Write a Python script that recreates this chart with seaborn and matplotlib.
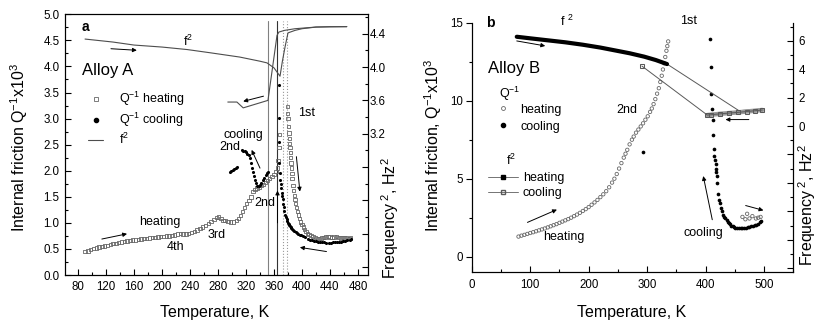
import matplotlib
matplotlib.use('Agg')
import matplotlib.pyplot as plt
from matplotlib.lines import Line2D
from matplotlib.ticker import MultipleLocator, FuncFormatter
import seaborn as sns

# ---------------- Panel a : Alloy A ----------------
# internal friction Q^-1 x10^3, heating run (open squares)
qa_heat_T = [90, 94, 98, 102, 106, 110, 114, 118, 122, 126, 130, 134, 138, 142, 146, 150, 154, 158,
             162, 166, 170, 174, 178, 182, 186, 190, 194, 198, 202, 206, 210, 214, 218, 222, 226,
             230, 234, 238, 242, 246, 250, 254, 258, 262, 266, 270, 274, 278, 281, 284, 287, 290,
             294, 298, 302, 306, 309, 312, 315, 318, 321, 324, 327, 330, 333, 336, 339, 342, 345,
             348, 351, 354, 357, 360, 363, 365, 366, 367, 368,
             379, 379.5, 380, 381, 381.5, 382, 382.5, 383, 383.5, 384, 384.5, 385, 385.5, 386, 387,
             388, 389, 390, 391, 392, 393.5, 395, 396.5, 398, 400, 402, 404, 406, 408, 410, 413,
             416, 419, 422, 425, 428, 431, 434, 437, 440, 443, 446, 449, 452, 455, 458, 461, 464,
             467, 469]
qa_heat_Q = [0.45, 0.46, 0.49, 0.51, 0.52, 0.54, 0.55, 0.56, 0.57, 0.59, 0.60, 0.61, 0.62, 0.63, 0.64,
             0.65, 0.66, 0.67, 0.67, 0.68, 0.69, 0.70, 0.70, 0.71, 0.72, 0.72, 0.73, 0.74, 0.74, 0.75,
             0.75, 0.76, 0.77, 0.79, 0.80, 0.79, 0.79, 0.80, 0.82, 0.84, 0.86, 0.89, 0.92, 0.95, 0.99,
             1.03, 1.07, 1.10, 1.11, 1.08, 1.05, 1.04, 1.03, 1.02, 1.02, 1.04, 1.08, 1.14, 1.22, 1.30,
             1.37, 1.43, 1.50, 1.60, 1.64, 1.67, 1.69, 1.72, 1.74, 1.77, 1.81, 1.85, 1.89, 1.93, 1.98,
             2.05, 2.20, 2.45, 2.70,
             3.23, 3.10, 3.00, 2.85, 2.72, 2.62, 2.52, 2.45, 2.35, 2.25, 2.15, 2.05, 1.95, 1.85, 1.72,
             1.62, 1.53, 1.45, 1.37, 1.30, 1.22, 1.15, 1.08, 1.02, 0.97, 0.92, 0.87, 0.83, 0.80, 0.78,
             0.76, 0.74, 0.72, 0.70, 0.70, 0.71, 0.72, 0.73, 0.74, 0.73, 0.72, 0.73, 0.74, 0.72, 0.71,
             0.72, 0.71, 0.72, 0.70, 0.71]
# internal friction, cooling run (dots)
qa_cool_T = [470, 468, 465, 462, 459, 456, 453, 450, 447, 444, 441, 438, 435, 432, 429, 426, 423, 420,
             417, 414, 411, 408, 405, 402, 399, 397, 395, 393, 391, 389, 387.6, 386, 385, 384, 383,
             382, 381, 380, 379, 378, 377, 376, 375, 374, 373.3, 372.5, 371.7, 371, 370, 369.3,
             368.6, 368, 367.5, 367, 366.7, 366.5,
             352, 350, 348, 346, 344, 342, 340, 338, 336, 334.5, 333, 331.5, 330, 328.5, 327, 326,
             324, 322, 320, 318, 316, 314, 307, 305, 303, 301, 299, 297]
qa_cool_Q = [0.70, 0.68, 0.67, 0.66, 0.65, 0.64, 0.64, 0.63, 0.63, 0.63, 0.62, 0.62, 0.62, 0.63, 0.63,
             0.63, 0.64, 0.65, 0.66, 0.67, 0.68, 0.70, 0.72, 0.74, 0.76, 0.77, 0.79, 0.81, 0.83, 0.85,
             0.86, 0.88, 0.90, 0.92, 0.94, 0.96, 0.98, 1.00, 1.04, 1.08, 1.12, 1.16, 1.22, 1.30, 1.37,
             1.45, 1.52, 1.57, 1.66, 1.74, 1.82, 1.95, 2.14, 2.56, 3.01, 3.65,
             1.98, 1.95, 1.91, 1.87, 1.82, 1.77, 1.73, 1.70, 1.71, 1.76, 1.82, 1.90, 1.97, 2.05, 2.15,
             2.24, 2.30, 2.32, 2.35, 2.37, 2.38, 2.40, 2.08, 2.05, 2.03, 2.01, 2.00, 1.98]
# f^2 (right axis), heating and cooling
fa_heat_T = [90, 130, 160, 200, 236, 270, 311, 340, 350, 360, 368.6, 372, 376, 380, 390, 400, 420, 440, 464]
fa_heat_F = [4.336, 4.30, 4.264, 4.24, 4.21, 4.17, 4.12, 4.07, 4.05, 3.99, 3.89, 4.07, 4.25, 4.41, 4.44,
             4.46, 4.48, 4.485, 4.485]
fa_cool_T = [464, 420, 390, 375, 367, 364.3, 351.4, 316, 307, 294]
fa_cool_F = [4.485, 4.48, 4.46, 4.44, 4.42, 4.38, 3.60, 3.51, 3.58, 3.58]
# transformation temperatures (vertical lines)
trans_T = [351.5, 364.5, 373, 378.5]

# ---------------- Panel b : Alloy B ----------------
qb_heat_T = [80, 85, 90, 95, 100, 105, 110, 115, 120, 125, 130, 135, 140, 145, 150, 155, 160, 165,
             170, 175, 180, 185, 190, 195, 200, 205, 210, 215, 220, 225, 230, 235, 240, 244, 248,
             252, 256, 260, 263, 266, 270, 274, 277, 281, 285, 289, 293, 297, 301, 305, 308, 311,
             314, 317, 320, 322.5, 325, 327, 329, 331, 333, 334.5, 336,
             463, 468, 471, 475, 480, 486, 490, 494]
qb_heat_Q = [1.29, 1.35, 1.40, 1.46, 1.52, 1.57, 1.63, 1.69, 1.75, 1.81, 1.88, 1.95, 2.02, 2.09, 2.17,
             2.25, 2.33, 2.41, 2.50, 2.60, 2.70, 2.81, 2.93, 3.05, 3.18, 3.33, 3.48, 3.64, 3.82, 4.00,
             4.20, 4.45, 4.75, 5.00, 5.30, 5.65, 6.00, 6.35, 6.60, 6.85, 7.20, 7.50, 7.70, 7.95, 8.15,
             8.35, 8.55, 8.78, 9.00, 9.28, 9.50, 9.78, 10.1, 10.45, 10.8, 11.2, 11.6, 12.0, 12.4, 12.8,
             13.2, 13.5, 13.8,
             2.55, 2.40, 2.75, 2.45, 2.60, 2.45, 2.50, 2.55]
qb_cool_T = [495, 493, 490, 487, 484, 481, 478, 475, 472, 469, 466, 463, 460, 457, 454, 451, 448.5,
             446, 444, 442, 440, 438, 436, 434, 432, 430, 428, 426, 424, 422.8, 421.5, 420, 419,
             418.5, 418, 417, 416, 415, 414, 413, 412.5, 411.5, 410, 408.5, 407, 293]
qb_cool_Q = [2.30, 2.22, 2.12, 2.06, 2.01, 1.97, 1.94, 1.91, 1.89, 1.87, 1.86, 1.85, 1.85, 1.85, 1.86,
             1.87, 1.90, 1.95, 2.00, 2.08, 2.16, 2.25, 2.35, 2.45, 2.55, 2.70, 2.90, 3.15, 3.45, 3.66,
             4.00, 4.74, 5.17, 5.40, 5.60, 5.93, 6.20, 6.46, 6.90, 7.80, 8.79, 9.48, 10.41, 12.13,
             13.96, 6.72]
fb_heat_T = [77, 100, 130, 160, 190, 220, 245, 270, 295, 315, 334, 457, 497]
fb_heat_F = [6.28, 6.17, 6.03, 5.89, 5.72, 5.52, 5.32, 5.12, 4.88, 4.64, 4.36, 1.08, 1.20]
fb_cool_T = [497, 485, 470, 455, 440, 425, 410, 403, 291]
fb_cool_F = [1.13, 1.08, 1.02, 0.96, 0.91, 0.86, 0.80, 0.77, 4.22]

# ---------------- style ----------------
sns.set_style('ticks', {'axes.edgecolor': 'black', 'xtick.color': 'black', 'ytick.color': 'black',
                        'text.color': 'black', 'axes.labelcolor': 'black'})
plt.rcParams['font.family'] = ['Liberation Sans', 'DejaVu Sans']
plt.rcParams['mathtext.fontset'] = 'custom'
plt.rcParams['mathtext.rm'] = 'Liberation Sans'
plt.rcParams['mathtext.it'] = 'Liberation Sans:italic'
plt.rcParams['mathtext.bf'] = 'Liberation Sans:bold'
plt.rcParams['axes.linewidth'] = 0.8

TICK = 8.3
LAB = 11.5
ANN = 9

fig = plt.figure(figsize=(8.17, 3.26), dpi=100)
ax1 = fig.add_axes([0.0796, 0.1564, 0.3708, 0.7997])
ax1r = ax1.twinx()
ax2 = fig.add_axes([0.5774, 0.1647, 0.3936, 0.7657])
ax2r = ax2.twinx()


def arrow(ax, x0, y0, x1, y1):
    ax.annotate('', xy=(x1, y1), xytext=(x0, y0),
                arrowprops=dict(arrowstyle='-|>', color='black', lw=0.7,
                                mutation_scale=6, shrinkA=0, shrinkB=0))


# ---------------- panel a ----------------
for t, c, ls in zip(trans_T, ['0.5', '0.2', '0.6', '0.6'], ['-', '-', ':', ':']):
    ax1.axvline(t, ymin=0, ymax=0.975, color=c, ls=ls, lw=0.8)

sns.scatterplot(x=qa_heat_T, y=qa_heat_Q, marker='s', s=6, color='0.4', facecolor='none',
                edgecolor='0.4', linewidth=0.6, ax=ax1, zorder=3)
sns.scatterplot(x=qa_cool_T, y=qa_cool_Q, marker='o', s=5, color='black', edgecolor='black',
                linewidth=0, ax=ax1, zorder=4)

sns.lineplot(x=fa_heat_T, y=fa_heat_F, sort=False, estimator=None, color='0.3', lw=0.8, ax=ax1r)
sns.lineplot(x=fa_cool_T, y=fa_cool_F, sort=False, estimator=None, color='0.3', lw=0.8, ax=ax1r)

ax1.set_xlim(61.4, 494.3)
ax1.set_ylim(0, 5.0)
ax1r.set_ylim(1.504, 4.633)
ax1.xaxis.set_major_locator(MultipleLocator(40))
ax1.xaxis.set_minor_locator(MultipleLocator(20))
ax1.yaxis.set_major_locator(MultipleLocator(0.5))
ax1.yaxis.set_minor_locator(MultipleLocator(0.25))
ax1.yaxis.set_major_formatter(FuncFormatter(lambda v, p: f'{v:.1f}'))
ax1r.yaxis.set_major_locator(MultipleLocator(0.4))
ax1r.yaxis.set_minor_locator(MultipleLocator(0.2))
ax1r.yaxis.set_major_formatter(FuncFormatter(lambda v, p: f'{v:.1f}' if v > 3.1 else ''))

ax1.tick_params(which='both', direction='in', labelsize=TICK, width=0.8)
ax1.tick_params(which='major', length=4, pad=4)
ax1.tick_params(which='minor', length=2)
ax1r.tick_params(which='both', direction='in', labelsize=TICK, width=0.8)
ax1r.tick_params(which='major', length=4, pad=1.5)
ax1r.tick_params(which='minor', length=2)

ax1.set_xlabel('Temperature, K', fontsize=LAB)
ax1.xaxis.set_label_coords(0.495, -0.115)
ax1.set_ylabel('Internal friction Q$^{-1}$x10$^3$', fontsize=LAB)
ax1.yaxis.set_label_coords(-0.115, 0.49)
ax1r.set_ylabel('Frequency$^{\\ 2}$, Hz$^2$', fontsize=LAB, rotation=90)
ax1r.yaxis.set_label_coords(1.036, 0.219)

ax1.text(0.069, 0.952, 'a', transform=ax1.transAxes, fontsize=10, fontweight='bold',
         ha='center', va='center')
ax1.text(237, 4.48, 'f$^2$', fontsize=ANN, ha='center', va='center')
ax1.text(85, 3.93, 'Alloy A', fontsize=12, ha='left', va='center')
ax1.text(394, 3.11, '1st', fontsize=ANN, ha='left', va='center')
ax1.text(315.7, 2.69, 'cooling', fontsize=ANN, ha='center', va='center')
ax1.text(297, 2.46, '2nd', fontsize=ANN, ha='center', va='center')
ax1.text(347, 1.38, '2nd', fontsize=ANN, ha='center', va='center')
ax1.text(197, 1.02, 'heating', fontsize=ANN, ha='center', va='center')
ax1.text(218.6, 0.54, '4th', fontsize=ANN, ha='center', va='center')
ax1.text(278, 0.77, '3rd', fontsize=ANN, ha='center', va='center')

arrow(ax1, 127, 4.34, 164, 4.31)
arrow(ax1, 345, 3.43, 316, 3.33)
arrow(ax1, 114, 0.69, 150, 0.79)
arrow(ax1, 435, 0.45, 397, 0.53)
arrow(ax1, 340, 2.05, 328, 2.40)
arrow(ax1, 392, 2.27, 397, 1.60)
arrow(ax1, 365, 1.0, 365, 1.62)

h_a = [Line2D([], [], marker='s', ls='none', mfc='none', mec='0.4', ms=3, mew=0.6),
       Line2D([], [], marker='o', ls='none', color='black', ms=3),
       Line2D([], [], color='0.3', lw=0.8)]
ax1.legend(h_a, ['Q$^{-1}$ heating', 'Q$^{-1}$ cooling', 'f$^2$'], loc='upper left',
           bbox_to_anchor=(0.076, 0.71), frameon=False, fontsize=ANN, handlelength=1.2,
           handletextpad=1.3, labelspacing=0.22, borderpad=0, borderaxespad=0)

# ---------------- panel b ----------------
sns.lineplot(x=fb_heat_T, y=fb_heat_F, sort=False, estimator=None, color='0.35', lw=0.7, ax=ax2r)
sns.lineplot(x=fb_heat_T[:11], y=fb_heat_F[:11], sort=False, estimator=None, color='black',
             lw=3, ax=ax2r)
sns.lineplot(x=fb_cool_T[:8], y=fb_cool_F[:8], sort=False, estimator=None, color='0.6',
             lw=3.2, ax=ax2r)
sns.lineplot(x=fb_cool_T, y=fb_cool_F, sort=False, estimator=None, color='0.35', lw=0.7,
             marker='s', markersize=2.5, mfc='none', mec='0.35', ax=ax2r)

sns.scatterplot(x=qb_heat_T, y=qb_heat_Q, marker='o', s=6, color='0.4', facecolor='none',
                edgecolor='0.4', linewidth=0.6, ax=ax2, zorder=3)
sns.scatterplot(x=qb_cool_T, y=qb_cool_Q, marker='o', s=7, color='black', edgecolor='black',
                linewidth=0, ax=ax2, zorder=4)

ax2.set_xlim(0, 550)
ax2.set_ylim(-1.0, 15.0)
ax2r.set_ylim(-10.29, 7.27)
ax2.xaxis.set_major_locator(MultipleLocator(100))
ax2.xaxis.set_minor_locator(MultipleLocator(50))
ax2.yaxis.set_major_locator(MultipleLocator(5))
ax2.yaxis.set_minor_locator(MultipleLocator(2.5))
ax2.yaxis.set_major_formatter(FuncFormatter(lambda v, p: f'{v:.0f}'))
ax2r.yaxis.set_major_locator(MultipleLocator(2))
ax2r.yaxis.set_minor_locator(MultipleLocator(1))
ax2r.yaxis.set_major_formatter(FuncFormatter(lambda v, p: f'{v:.0f}' if v > -0.5 else ''))
for a in (ax2, ax2r):
    a.spines['top'].set_visible(False)

ax2.tick_params(axis='x', which='both', direction='in', labelsize=TICK, width=0.8)
ax2.tick_params(axis='x', which='major', length=4, pad=5)
ax2.tick_params(axis='x', which='minor', length=2)
ax2.tick_params(axis='y', which='both', direction='out', labelsize=TICK, width=0.8)
ax2.tick_params(axis='y', which='major', length=4, pad=2)
ax2.tick_params(axis='y', which='minor', length=2)
ax2r.tick_params(which='both', direction='in', labelsize=TICK, width=0.8)
ax2r.tick_params(which='major', length=4, pad=4)
ax2r.tick_params(which='minor', length=2)

ax2.set_xlabel('Temperature, K', fontsize=LAB)
ax2.xaxis.set_label_coords(0.4975, -0.131)
ax2.set_ylabel('Internal friction, Q$^{-1}$x10$^3$', fontsize=LAB)
ax2.yaxis.set_label_coords(-0.086, 0.51)
ax2r.set_ylabel('Frequency$^{\\ 2}$, Hz$^2$', fontsize=LAB, rotation=90)
ax2r.yaxis.set_label_coords(1.01, 0.27)

ax2.text(0.057, 1.0, 'b', transform=ax2.transAxes, fontsize=10, fontweight='bold',
         ha='center', va='center')
ax2.text(163, 15.1, 'f $^2$', fontsize=ANN, ha='center', va='center')
ax2.text(371, 15.14, '1st', fontsize=ANN, ha='center', va='center')
ax2.text(28.5, 12.07, 'Alloy B', fontsize=12, ha='left', va='center')
ax2.text(265.7, 9.42, '2nd', fontsize=ANN, ha='center', va='center')
ax2.text(157, 1.29, 'heating', fontsize=ANN, ha='center', va='center')
ax2.text(397, 1.51, 'cooling', fontsize=ANN, ha='center', va='center')
ax2.text(46, 10.45, 'Q$^{-1}$', fontsize=ANN, ha='left', va='center')
ax2.text(58, 6.2, 'f$^2$', fontsize=ANN, ha='left', va='center')

arrow(ax2, 77, 13.83, 125.7, 13.51)
arrow(ax2, 474, 8.79, 434, 8.79)
arrow(ax2, 95.3, 2.2, 145.7, 3.02)
arrow(ax2, 411.4, 2.37, 396, 5.17)
arrow(ax2, 468.5, 3.28, 498.9, 2.97)

h_q = [Line2D([], [], marker='o', ls='none', mfc='none', mec='0.4', ms=2.8, mew=0.6),
       Line2D([], [], marker='o', ls='none', color='black', ms=3)]
leg1 = ax2.legend(h_q, ['heating', 'cooling'], loc='upper left', bbox_to_anchor=(0.079, 0.675),
                  frameon=False, fontsize=ANN, handlelength=1.0, handletextpad=0.85,
                  labelspacing=0.38, borderpad=0, borderaxespad=0)
ax2.add_artist(leg1)
h_f = [Line2D([], [], color='0.45', lw=0.7, marker='s', ms=2.5, mfc='black', mec='black'),
       Line2D([], [], color='0.45', lw=0.7, marker='s', ms=2.5, mfc='none', mec='0.35')]
ax2.legend(h_f, ['heating', 'cooling'], loc='upper left', bbox_to_anchor=(0.052, 0.40),
           frameon=False, fontsize=ANN, handlelength=2.4, handletextpad=0.35,
           labelspacing=0.2, borderpad=0, borderaxespad=0)

fig.savefig('out.png', dpi=100)
